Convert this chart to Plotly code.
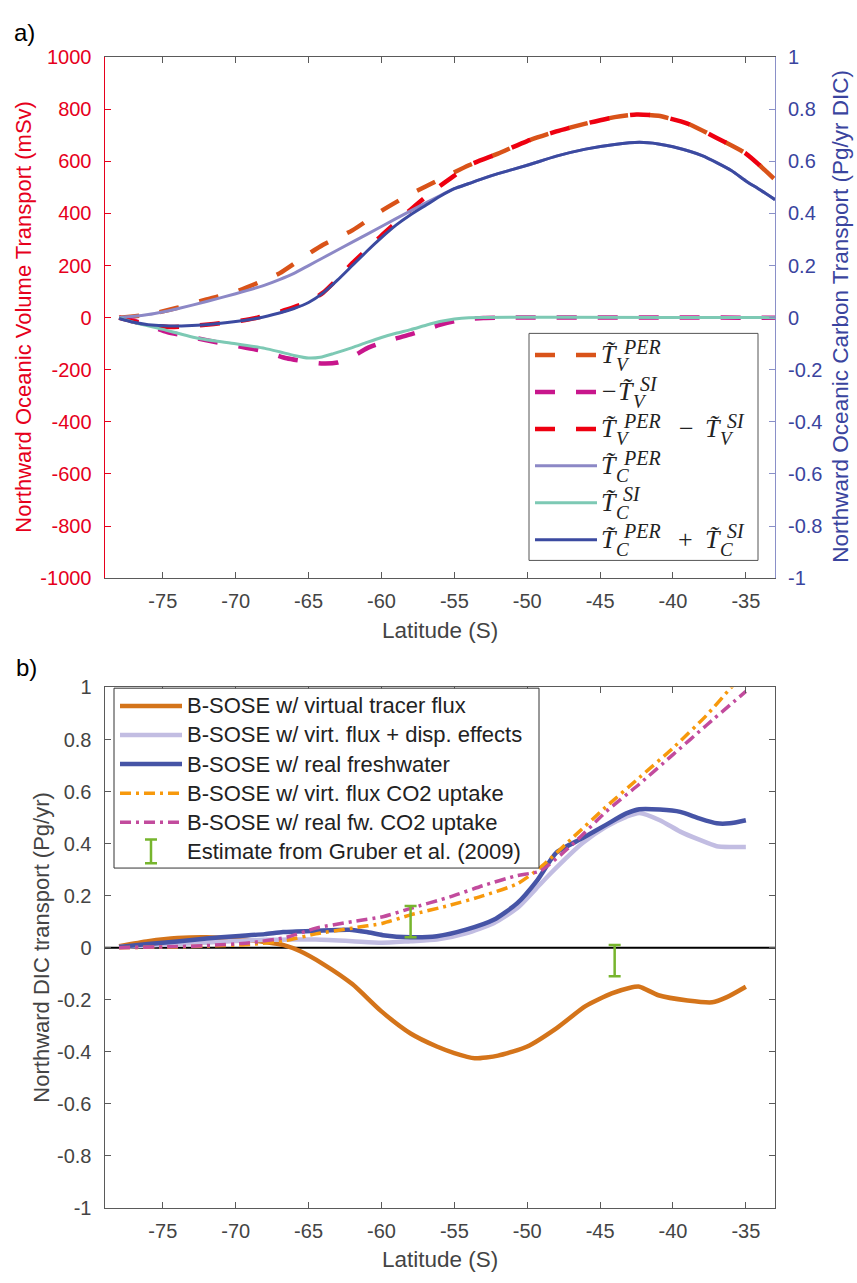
import plotly.graph_objects as go

W, H = 857, 1283


def fx(p):
    return p / W


def fy(p):
    return 1 - p / H


# ---------------- panel a: volume (mSv) and carbon (Pg/yr DIC) transport ----------------
lat_tv_per = [-78, -76, -74, -72, -70, -68, -67, -65, -64, -62, -60, -58, -56, -54, -52, -50,
              -48, -46, -44, -42.5, -41, -39, -37, -35, -33]
tv_per = [0, 12, 38, 70, 100, 145, 170, 245, 280, 335, 410, 475, 530, 585, 630, 678,
          715, 745, 770, 780, 775, 745, 690, 630, 530]

lat_tv_si = [-78, -77, -76, -74.7, -73, -72, -70, -68, -66.5, -65, -64, -63, -62, -61, -60,
             -59, -58, -57, -56, -55, -54, -53, -52, -33]
tv_si_neg = [0, -12, -30, -55, -75, -87, -108, -130, -156, -170, -176, -172, -150, -118, -97,
             -80, -64, -46, -28, -14, -5, -1, 0, 0]

lat_tv_diff = [-78, -77, -76, -74.5, -73, -71.5, -70, -68.5, -67, -66, -65, -64, -63, -62, -61,
               -60, -59, -58, -57, -56, -55, -54, -52, -50, -48, -46, -44, -42.5, -41, -39,
               -37, -35, -33]
tv_diff = [0, -15, -28, -36, -32, -24, -15, 0, 22, 40, 62, 96, 150, 209, 262,
           315, 365, 415, 462, 505, 545, 585, 630, 678, 715, 745, 770, 780, 775, 745,
           690, 630, 530]

lat_tc_per = [-78, -77, -76, -75, -74, -72, -70, -68, -67, -66, -65, -64, -62, -60, -58, -56,
              -55, -54, -53, -52, -50, -48, -46, -44, -42.3, -41, -40, -38, -36, -35, -34, -33]
tc_per = [0, 0.005, 0.012, 0.022, 0.034, 0.062, 0.092, 0.125, 0.146, 0.17, 0.2, 0.23, 0.29,
          0.35, 0.41, 0.468, 0.495, 0.515, 0.535, 0.553, 0.585, 0.62, 0.647, 0.665, 0.673,
          0.667, 0.656, 0.622, 0.565, 0.525, 0.49, 0.453]

lat_tc_si = [-78, -77, -75, -72.5, -70, -68, -67, -66, -65, -64.2, -63.3, -62, -61, -60, -59,
             -58, -57, -56, -55, -54, -33]
tc_si = [0, -0.018, -0.045, -0.08, -0.1, -0.118, -0.131, -0.145, -0.155, -0.152, -0.138,
         -0.115, -0.095, -0.076, -0.06, -0.046, -0.03, -0.015, -0.005, 0, 0]

lat_tc_sum = [-78, -77, -76, -74.5, -73, -71.5, -70, -68.5, -67, -66, -65, -64, -63, -62, -61,
              -60, -59, -58, -57, -56, -55, -54, -53, -52, -50, -48, -46, -44, -42.3, -41,
              -40, -38, -36, -35, -34, -33]
tc_sum = [-0.003, -0.018, -0.027, -0.032, -0.03, -0.024, -0.015, -0.002, 0.018, 0.035, 0.058,
          0.095, 0.145, 0.2, 0.255, 0.307, 0.355, 0.395, 0.43, 0.465, 0.495, 0.515, 0.535,
          0.553, 0.585, 0.62, 0.647, 0.665, 0.673, 0.667, 0.656, 0.622, 0.565, 0.525, 0.49,
          0.453]

# ---------------- panel b: northward DIC transport (Pg/yr) ----------------
lat_virtual = [-78, -76, -74, -72, -70, -68, -66.7, -65.6, -64, -62, -60, -58, -56.2, -55,
               -53.6, -52, -50, -48, -46, -44.2, -43, -42.3, -41, -39, -37.3, -36.3, -35]
dic_virtual = [0.006, 0.025, 0.037, 0.04, 0.034, 0.022, 0.01, -0.013, -0.063, -0.14, -0.245,
               -0.33, -0.38, -0.405, -0.425, -0.415, -0.38, -0.31, -0.225, -0.176, -0.155,
               -0.15, -0.183, -0.203, -0.21, -0.19, -0.15]

lat_disp = [-78, -76, -74, -72, -70, -68, -66, -64.5, -62, -60, -58, -56.2, -54.2, -52.3,
            -50.7, -49.4, -48.4, -46.2, -44.6, -43.2, -42.3, -40.9, -39.5, -38.2, -37, -36,
            -35]
dic_disp = [0.003, 0.008, 0.014, 0.02, 0.026, 0.03, 0.031, 0.031, 0.025, 0.019, 0.025, 0.031,
            0.055, 0.094, 0.151, 0.226, 0.285, 0.402, 0.465, 0.503, 0.518, 0.49, 0.446, 0.415,
            0.39, 0.387, 0.387]

lat_real = [-78, -76, -74, -72, -70, -68, -66.75, -64.5, -62.2, -61, -59.9, -58, -56.2, -54.2,
            -52.3, -50.7, -49.3, -48, -46.2, -44.6, -43.2, -42.3, -40.9, -39.5, -38.2, -37,
            -36.1, -35]
dic_real = [0.003, 0.014, 0.024, 0.035, 0.044, 0.052, 0.06, 0.065, 0.069, 0.06, 0.048, 0.04,
            0.044, 0.069, 0.107, 0.17, 0.26, 0.365, 0.421, 0.472, 0.516, 0.532, 0.531, 0.522,
            0.497, 0.478, 0.478, 0.49]

lat_virt_co2 = [-78, -74, -72, -69, -66.5, -64.5, -62, -59.9, -58, -55.3, -53, -50.7, -49.1,
                -46.8, -44.6, -42.3, -40, -37.7, -36.1, -35]
dic_virt_co2 = [0.0, 0.003, 0.006, 0.012, 0.028, 0.053, 0.075, 0.094, 0.126, 0.163, 0.2,
                0.245, 0.308, 0.427, 0.541, 0.654, 0.767, 0.893, 0.994, 1.06]

lat_real_co2 = [-78, -74, -72, -69, -66.5, -64.5, -62, -59.9, -58, -55.3, -53, -50.7, -49.1,
                -46.8, -44.6, -42.3, -40, -37.7, -35]
dic_real_co2 = [0.0, 0.004, 0.008, 0.019, 0.04, 0.075, 0.1, 0.119, 0.151, 0.195, 0.239,
                0.277, 0.295, 0.402, 0.522, 0.629, 0.742, 0.855, 0.985]

lat_gruber = [-58, -44]
dic_gruber = [0.1, -0.05]
err_gruber = [0.06, 0.06]

# ---------------- ticks ----------------
lat_ticks = [-75, -70, -65, -60, -55, -50, -45, -40, -35]
lat_tick_text = ["-75", "-70", "-65", "-60", "-55", "-50", "-45", "-40", "-35"]
vol_ticks = [-1000, -800, -600, -400, -200, 0, 200, 400, 600, 800, 1000]
vol_tick_text = ["-1000", "-800", "-600", "-400", "-200", "0", "200", "400", "600", "800", "1000"]
pg_ticks = [-1, -0.8, -0.6, -0.4, -0.2, 0, 0.2, 0.4, 0.6, 0.8, 1]
pg_tick_text = ["-1", "-0.8", "-0.6", "-0.4", "-0.2", "0", "0.2", "0.4", "0.6", "0.8", "1"]

# ---------------- styling ----------------
SANS = "Liberation Sans, Arial, sans-serif"
SERIF = "Liberation Serif, Times New Roman, serif"
RED = "#E6001C"
BLUE_TXT = "#3A449E"
BLUE_LINE = "#8A90C8"
GRAY = "#5a5a5a"
TXT_GRAY = "#444444"

C_TV_PER = "#D95319"
C_TV_SI = "#C8168C"
C_TV_DIFF = "#EE0010"
C_TC_PER = "#8C88C6"
C_TC_SI = "#7DC9B4"
C_TC_SUM = "#3B4AA0"

C_VIRT = "#D4741A"
C_DISP = "#C2BDE2"
C_REAL = "#4654A6"
C_VIRT_CO2 = "#F7990C"
C_REAL_CO2 = "#C24B9D"
C_GRUBER = "#77B52E"

DASH = "20px,21px"
DASHDOT = "11px,5px,3px,5px"
SPL = dict(shape="spline", smoothing=0.6)

W_DASH, W_THIN, W_THICK, W_DD = 4.5, 3, 4.5, 3.5

fig = go.Figure()


def add_line(x, y, name, color, width, dash, xa, ya):
    fig.add_trace(go.Scatter(x=x, y=y, mode="lines", name=name, showlegend=False,
                             line=dict(color=color, width=width, dash=dash, **SPL),
                             xaxis=xa, yaxis=ya))


# panel a, left axis (volume)
add_line(lat_tv_per, tv_per, "T_V^PER", C_TV_PER, W_DASH, DASH, "x", "y")
add_line(lat_tv_si, tv_si_neg, "-T_V^SI", C_TV_SI, W_DASH, DASH, "x", "y")
add_line(lat_tv_diff, tv_diff, "T_V^PER - T_V^SI", C_TV_DIFF, W_DASH, DASH, "x", "y")
# panel a, right axis (carbon)
add_line(lat_tc_per, tc_per, "T_C^PER", C_TC_PER, W_THIN, "solid", "x", "y2")
add_line(lat_tc_si, tc_si, "T_C^SI", C_TC_SI, W_THIN, "solid", "x", "y2")
add_line(lat_tc_sum, tc_sum, "T_C^PER + T_C^SI", C_TC_SUM, W_THIN, "solid", "x", "y2")

# panel b
b_series = [
    (lat_virtual, dic_virtual, "B-SOSE w/ virtual tracer flux", C_VIRT, W_THICK, "solid"),
    (lat_disp, dic_disp, "B-SOSE w/ virt. flux + disp. effects", C_DISP, W_THICK, "solid"),
    (lat_real, dic_real, "B-SOSE w/ real freshwater", C_REAL, W_THICK, "solid"),
    (lat_virt_co2, dic_virt_co2, "B-SOSE w/ virt. flux CO2 uptake", C_VIRT_CO2, W_DD, DASHDOT),
    (lat_real_co2, dic_real_co2, "B-SOSE w/ real fw. CO2 uptake", C_REAL_CO2, W_DD, DASHDOT),
]
for xs, ys, nm, col, wd, ds in b_series:
    add_line(xs, ys, nm, col, wd, ds, "x2", "y3")

GRUBER_NAME = "Estimate from Gruber et al. (2009)"
fig.add_trace(go.Scatter(x=lat_gruber, y=dic_gruber, mode="markers", name=GRUBER_NAME,
                         showlegend=False, marker=dict(color=C_GRUBER, size=1, opacity=0),
                         error_y=dict(type="data", array=err_gruber, visible=True,
                                      color=C_GRUBER, thickness=2.5, width=6),
                         xaxis="x2", yaxis="y3"))

# ---------------- layout ----------------
xdom = [fx(104.5), fx(775)]
ydom_a = [fy(577), fy(47)]
ydom_b = [fy(1217.7), fy(688.3)]

xcommon = dict(range=[-79, -33], tickvals=lat_ticks, ticktext=lat_tick_text,
               ticks="inside", ticklen=6, tickwidth=1, tickcolor=GRAY,
               showline=True, linecolor=GRAY, linewidth=1, mirror="ticks",
               showgrid=False, zeroline=False, ticklabelstandoff=5,
               tickfont=dict(family=SANS, size=20, color=TXT_GRAY), domain=xdom)

shapes = [
    # zero reference of panel b
    dict(type="line", xref="x2 domain", x0=0, x1=1, yref="y3", y0=0, y1=0,
         line=dict(color="black", width=2), layer="below"),
    # legend frames
    dict(type="rect", xref="paper", yref="paper", x0=fx(529), x1=fx(758), y0=fy(559), y1=fy(328),
         fillcolor="white", line=dict(color="#555555", width=1), layer="above"),
    dict(type="rect", xref="paper", yref="paper", x0=fx(114), x1=fx(539), y0=fy(872), y1=fy(689),
         fillcolor="white", line=dict(color="#333333", width=1), layer="above"),
]

annotations = [
    dict(text="a)", x=fx(12), y=fy(22), xanchor="left", yanchor="middle",
         font=dict(family=SANS, size=24, color="black")),
    dict(text="b)", x=fx(14), y=fy(668), xanchor="left", yanchor="middle",
         font=dict(family=SANS, size=24, color="black")),
    dict(text="Latitude (S)", x=fx(440), y=fy(630), xanchor="center", yanchor="middle",
         font=dict(family=SANS, size=22.5, color=TXT_GRAY)),
    dict(text="Latitude (S)", x=fx(440), y=fy(1270), xanchor="center", yanchor="middle",
         font=dict(family=SANS, size=22.5, color=TXT_GRAY)),
    dict(text="Northward Oceanic Volume Transport (mSv)", x=fx(24), y=fy(311), textangle=-90,
         xanchor="center", yanchor="middle", font=dict(family=SANS, size=22, color=RED)),
    dict(text="Northward Oceanic Carbon Transport (Pg/yr DIC)", x=fx(841), y=fy(311),
         textangle=-90, xanchor="center", yanchor="middle",
         font=dict(family=SANS, size=22.5, color=BLUE_TXT)),
    dict(text="Northward DIC transport (Pg/yr)", x=fx(42), y=fy(953), textangle=-90,
         xanchor="center", yanchor="middle", font=dict(family=SANS, size=22, color=TXT_GRAY)),
]

# ---- legend of panel a: line samples and stacked math labels ----
a_rows = [(C_TV_PER, DASH, W_DASH), (C_TV_SI, DASH, W_DASH), (C_TV_DIFF, DASH, W_DASH),
          (C_TC_PER, "solid", W_THIN), (C_TC_SI, "solid", W_THIN), (C_TC_SUM, "solid", W_THIN)]
A_ROW0, A_STEP = 350, 37.6
A_SAMPLE = (535, 597)


def math_term(x0, yc, sub, sup):
    """Tilde-T with stacked super/subscript starting at pixel x0, row centre yc."""
    return [
        dict(text="<i>T\u0303</i>", x=fx(x0), y=fy(yc), font=dict(family=SERIF, size=26)),
        dict(text="<i>%s</i>" % sup, x=fx(x0 + 22), y=fy(yc - 8.5), font=dict(family=SERIF, size=20)),
        dict(text="<i>%s</i>" % sub, x=fx(x0 + 15), y=fy(yc + 9.5), font=dict(family=SERIF, size=19)),
    ]


def op(x0, yc, sym):
    return [dict(text=sym, x=fx(x0), y=fy(yc), font=dict(family=SERIF, size=26))]


a_labels = []
for i in range(6):
    yc = A_ROW0 + A_STEP * i
    if i == 0:
        parts = math_term(600, yc, "V", "PER")
    elif i == 1:
        parts = op(601, yc, "\u2212") + math_term(617, yc, "V", "SI")
    elif i == 2:
        parts = math_term(600, yc, "V", "PER") + op(678, yc, "\u2212") + math_term(704, yc, "V", "SI")
    elif i == 3:
        parts = math_term(600, yc, "C", "PER")
    elif i == 4:
        parts = math_term(600, yc, "C", "SI")
    else:
        parts = math_term(600, yc, "C", "PER") + op(677, yc, "+") + math_term(704, yc, "C", "SI")
    a_labels += parts
    col, ds, wd = a_rows[i]
    shapes.append(dict(type="line", xref="paper", yref="paper", layer="above",
                       x0=fx(A_SAMPLE[0]), x1=fx(A_SAMPLE[1]), y0=fy(yc), y1=fy(yc),
                       line=dict(color=col, width=wd, dash=ds)))
for a in a_labels:
    a.update(xanchor="left", yanchor="middle", borderpad=0)
    a["font"]["color"] = "#222222"
annotations += a_labels

# ---- legend of panel b ----
B_ROW0, B_STEP = 707, 29.6
B_SAMPLE = (120, 182)
b_names = [s[2] for s in b_series] + [GRUBER_NAME]
for i, nm in enumerate(b_names):
    yc = B_ROW0 + B_STEP * i
    annotations.append(dict(text=nm, x=fx(186), y=fy(yc), xanchor="left", yanchor="middle",
                            borderpad=0, font=dict(family=SANS, size=22, color="#222222")))
    if i < len(b_series):
        _, _, _, col, wd, ds = b_series[i]
        shapes.append(dict(type="line", xref="paper", yref="paper", layer="above",
                           x0=fx(B_SAMPLE[0]), x1=fx(B_SAMPLE[1]), y0=fy(yc), y1=fy(yc),
                           line=dict(color=col, width=wd, dash=ds)))
    else:
        xc = (B_SAMPLE[0] + B_SAMPLE[1]) / 2
        y0, y1 = yc - 12, yc + 12
        shapes.append(dict(type="path", xref="paper", yref="paper", layer="above",
                           path="M%f,%f L%f,%f M%f,%f L%f,%f M%f,%f L%f,%f" % (
                               fx(xc - 6), fy(y0), fx(xc + 6), fy(y0),
                               fx(xc), fy(y0), fx(xc), fy(y1),
                               fx(xc - 6), fy(y1), fx(xc + 6), fy(y1)),
                           line=dict(color=C_GRUBER, width=2.5)))

for a in annotations:
    a.update(xref="paper", yref="paper", showarrow=False)

fig.update_layout(
    width=W, height=H, autosize=False,
    margin=dict(l=0, r=0, t=0, b=0),
    paper_bgcolor="white", plot_bgcolor="white",
    font=dict(family=SANS, color=TXT_GRAY),
    showlegend=False,
    xaxis=dict(anchor="y", **xcommon),
    yaxis=dict(domain=ydom_a, anchor="x", range=[-1000, 1000], tickvals=vol_ticks,
               ticktext=vol_tick_text, ticks="inside", ticklen=6, tickcolor=RED,
               showline=True, linecolor=RED, linewidth=1, showgrid=False, zeroline=False,
               ticklabelstandoff=8, tickfont=dict(family=SANS, size=20, color=RED)),
    yaxis2=dict(overlaying="y", side="right", anchor="x", range=[-1, 1], tickvals=pg_ticks,
                ticktext=pg_tick_text, ticks="inside", ticklen=6, tickcolor=BLUE_LINE,
                showline=True, linecolor=BLUE_LINE, linewidth=1, showgrid=False,
                zeroline=False, ticklabelstandoff=8,
                tickfont=dict(family=SANS, size=20, color=BLUE_TXT)),
    xaxis2=dict(anchor="y3", **xcommon),
    yaxis3=dict(domain=ydom_b, anchor="x2", range=[-1, 1], tickvals=pg_ticks,
                ticktext=pg_tick_text, ticks="inside", ticklen=6, tickcolor=GRAY,
                showline=True, linecolor=GRAY, linewidth=1, mirror="ticks", showgrid=False,
                zeroline=False, ticklabelstandoff=8,
                tickfont=dict(family=SANS, size=20, color=TXT_GRAY)),
    shapes=shapes,
    annotations=annotations,
)

fig.write_html("out.html")
